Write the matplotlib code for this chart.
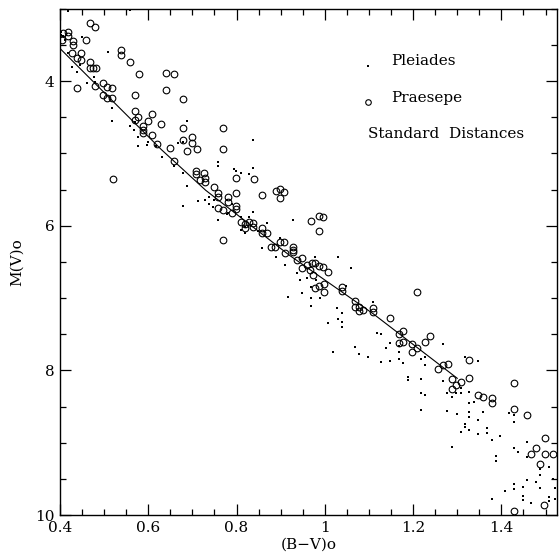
import matplotlib
matplotlib.use('Agg')
import matplotlib.pyplot as plt
from matplotlib.ticker import MultipleLocator, FuncFormatter

plt.rcParams['font.family'] = ['DejaVu Serif']

# Pleiades (dots): (B-V)o and M(V)o
pleiades_bv = [0.418, 0.559, 0.402, 0.402, 0.407, 0.411, 0.450, 0.418, 0.427, 0.438,
               0.445, 0.461, 0.479, 0.477, 0.509, 0.518, 0.518, 0.559, 0.570, 0.568,
               0.577, 0.577, 0.597, 0.599, 0.617, 0.631, 0.658, 0.679, 0.688, 0.679,
               0.688, 0.679, 0.667, 0.728, 0.737, 0.737, 0.749, 0.747, 0.758, 0.758,
               0.758, 0.781, 0.790, 0.778, 0.778, 0.799, 0.810, 0.828, 0.837, 0.837,
               0.837, 0.810, 0.810, 0.819, 0.819, 0.828, 0.848, 0.857, 0.889, 0.898,
               0.869, 0.928, 0.910, 0.937, 0.959, 0.978, 1.030, 1.059, 0.916, 0.948,
               0.968, 0.968, 0.968, 0.980, 0.989, 1.007, 1.027, 1.030, 1.039, 1.039,
               1.039, 1.018, 1.048, 1.109, 1.118, 1.127, 1.138, 1.147, 1.068, 1.077,
               1.097, 1.127, 1.147, 1.168, 1.168, 1.168, 1.177, 1.188, 1.188, 1.218,
               1.227, 1.227, 1.218, 1.218, 1.227, 1.218, 1.267, 1.267, 1.277, 1.277,
               1.288, 1.297, 1.308, 1.308, 1.288, 1.317, 1.326, 1.326, 1.326, 1.326,
               1.317, 1.317, 1.308, 1.326, 1.337, 1.346, 1.346, 1.346, 1.358, 1.367,
               1.367, 1.378, 1.387, 1.387, 1.397, 1.417, 1.428, 1.428, 1.428, 1.437,
               1.428, 1.428, 1.448, 1.448, 1.448, 1.408, 1.378, 1.458, 1.458, 1.458,
               1.467, 1.478, 1.487, 1.487, 1.487, 1.508, 1.508, 1.508, 1.517, 1.522,
               1.522, 1.299, 0.943, 0.713, 0.794]
pleiades_mv = [3.03, 3.02, 3.32, 3.36, 3.38, 3.43, 3.39, 3.61, 3.81, 3.88,
               3.78, 4.03, 4.01, 3.94, 3.60, 4.37, 4.55, 4.62, 4.57, 4.68,
               4.77, 4.90, 4.89, 4.84, 4.90, 5.05, 5.18, 4.84, 4.55, 5.73,
               5.45, 5.27, 4.86, 5.65, 5.61, 5.70, 5.65, 5.74, 5.12, 5.18,
               5.92, 5.83, 5.70, 5.65, 5.84, 5.24, 5.27, 5.29, 4.82, 5.20,
               5.81, 5.88, 6.06, 6.10, 6.02, 5.88, 6.07, 6.31, 6.43, 6.17,
               5.96, 5.92, 6.54, 6.66, 6.73, 6.43, 6.43, 6.59, 6.99, 6.93,
               6.85, 7.00, 7.11, 6.75, 7.00, 7.35, 7.14, 7.29, 7.21, 7.33,
               7.40, 7.75, 6.84, 7.06, 7.49, 7.50, 7.69, 7.62, 7.68, 7.78,
               7.82, 7.89, 7.87, 7.66, 7.75, 7.84, 7.90, 8.09, 8.14, 7.84,
               7.82, 7.93, 8.12, 8.31, 8.34, 8.55, 7.64, 8.15, 8.31, 8.56,
               8.37, 8.31, 8.24, 8.31, 9.06, 7.81, 8.30, 8.45, 8.58, 8.65,
               8.74, 8.78, 8.85, 8.83, 8.44, 7.87, 8.69, 8.88, 8.58, 8.80,
               8.87, 8.96, 9.18, 9.25, 8.91, 8.59, 8.62, 8.72, 9.08, 9.13,
               9.57, 9.64, 9.61, 9.74, 9.79, 9.67, 9.78, 8.99, 9.20, 9.52,
               9.84, 9.55, 9.37, 9.45, 9.62, 9.34, 9.75, 9.81, 9.50, 9.62,
               9.78, 8.61, 6.75, 5.66, 5.22]

# Praesepe (open circles)
praesepe_bv = [0.407, 0.418, 0.418, 0.405, 0.429, 0.429, 0.427, 0.438, 0.448, 0.448,
               0.459, 0.468, 0.479, 0.438, 0.468, 0.468, 0.475, 0.482, 0.479, 0.497,
               0.506, 0.518, 0.497, 0.506, 0.518, 0.538, 0.538, 0.559, 0.579, 0.570,
               0.570, 0.577, 0.570, 0.588, 0.588, 0.599, 0.588, 0.608, 0.608, 0.620,
               0.629, 0.640, 0.640, 0.649, 0.658, 0.658, 0.679, 0.679, 0.679, 0.688,
               0.699, 0.699, 0.710, 0.708, 0.708, 0.717, 0.726, 0.728, 0.728, 0.749,
               0.758, 0.758, 0.769, 0.769, 0.758, 0.769, 0.781, 0.781, 0.790, 0.799,
               0.799, 0.799, 0.769, 0.520, 0.799, 0.839, 0.858, 0.810, 0.819, 0.828,
               0.837, 0.819, 0.837, 0.858, 0.858, 0.869, 0.878, 0.887, 0.889, 0.898,
               0.907, 0.898, 0.969, 0.987, 0.996, 0.987, 0.898, 0.907, 0.928, 0.928,
               0.928, 0.937, 0.948, 0.959, 0.971, 0.978, 0.987, 0.996, 1.007, 0.948,
               0.966, 0.973, 0.910, 0.978, 0.987, 0.998, 0.998, 1.039, 1.039, 1.068,
               1.068, 1.077, 1.077, 1.086, 1.109, 1.109, 1.147, 1.209, 1.168, 1.177,
               1.177, 1.168, 1.197, 1.197, 1.209, 1.227, 1.238, 1.256, 1.267, 1.279,
               1.288, 1.288, 1.297, 1.308, 1.326, 1.326, 1.347, 1.358, 1.378, 1.378,
               1.428, 1.428, 1.458, 1.499, 1.478, 1.467, 1.499, 1.517, 1.487, 1.496,
               1.428]
praesepe_mv = [3.34, 3.32, 3.38, 3.43, 3.45, 3.50, 3.61, 3.68, 3.61, 3.71,
               3.43, 3.20, 3.25, 4.10, 3.74, 3.82, 3.82, 3.82, 4.07, 4.03,
               4.08, 4.10, 4.19, 4.24, 4.24, 3.57, 3.64, 3.74, 3.90, 4.19,
               4.42, 4.50, 4.54, 4.62, 4.68, 4.55, 4.72, 4.46, 4.75, 4.87,
               4.60, 3.89, 4.12, 4.93, 3.90, 5.11, 4.25, 4.65, 4.82, 4.97,
               4.78, 4.86, 4.94, 5.24, 5.29, 5.37, 5.27, 5.34, 5.40, 5.47,
               5.55, 5.61, 4.65, 4.94, 5.75, 5.79, 5.61, 5.67, 5.82, 5.73,
               5.77, 5.55, 6.20, 5.36, 5.34, 5.36, 5.58, 5.95, 5.98, 5.95,
               5.96, 6.03, 6.02, 6.03, 6.10, 6.10, 6.30, 6.30, 5.52, 5.49,
               5.54, 5.62, 5.94, 5.87, 5.88, 6.08, 6.23, 6.23, 6.30, 6.34,
               6.37, 6.48, 6.45, 6.55, 6.52, 6.52, 6.56, 6.57, 6.64, 6.59,
               6.61, 6.68, 6.38, 6.86, 6.84, 6.81, 6.92, 6.85, 6.90, 7.04,
               7.13, 7.13, 7.18, 7.17, 7.14, 7.20, 7.28, 6.92, 7.50, 7.46,
               7.61, 7.62, 7.64, 7.74, 7.69, 7.61, 7.53, 7.98, 7.93, 7.91,
               8.12, 8.26, 8.20, 8.16, 7.86, 8.11, 8.34, 8.37, 8.38, 8.45,
               8.18, 8.54, 8.62, 8.94, 9.08, 9.15, 9.15, 9.15, 9.30, 9.86,
               9.94]

# standard main sequence
ms_bv = [0.40, 0.51, 0.63, 0.73, 0.92, 1.11, 1.30]
ms_mv = [3.55, 4.22, 4.95, 5.51, 6.41, 7.22, 8.11]

fig = plt.figure(figsize=(5.6, 5.59), dpi=100)
ax = fig.add_axes([60/560, 1 - 515/559, 497/560, 506.3/559])

ax.plot(ms_bv, ms_mv, color='black', lw=0.8)
ax.plot(praesepe_bv, praesepe_mv, 'o', mfc='none', mec='black', ms=4.8, mew=0.8)
ax.plot(pleiades_bv, pleiades_mv, 's', color='black', ms=1.6, mew=0)

ax.set_xlim(0.4, 1.526)
ax.set_ylim(10, 3)

ax.xaxis.set_major_locator(MultipleLocator(0.2))
ax.xaxis.set_minor_locator(MultipleLocator(0.05))
ax.yaxis.set_major_locator(MultipleLocator(2))
ax.yaxis.set_minor_locator(MultipleLocator(0.5))
ax.xaxis.set_major_formatter(FuncFormatter(lambda v, p: '%g' % round(v, 2)))
ax.yaxis.set_major_formatter(FuncFormatter(lambda v, p: '%g' % round(v, 2)))

ax.tick_params(which='both', direction='in', top=True, right=True,
               labelsize=11, width=0.9, colors='black')
ax.tick_params(which='major', length=8, pad=4)
ax.tick_params(which='minor', length=4)
for s in ax.spines.values():
    s.set_linewidth(1.0)

ax.set_xlabel('(B\u2212V)o', fontsize=11, labelpad=2)
ax.set_ylabel('M(V)o', fontsize=11, labelpad=8)

# legend drawn as text, like the original
ax.plot([0.620], [0.887], 's', color='black', ms=1.6, mew=0, transform=ax.transAxes)
ax.text(0.666, 0.897, 'Pleiades', transform=ax.transAxes, fontsize=11, va='center')
ax.plot([0.620], [0.816], 'o', mfc='none', mec='black', ms=4, mew=0.8, transform=ax.transAxes)
ax.text(0.666, 0.824, 'Praesepe', transform=ax.transAxes, fontsize=11, va='center')
ax.text(0.620, 0.753, 'Standard  Distances', transform=ax.transAxes, fontsize=11, va='center')

fig.savefig('out.png', dpi=100)
